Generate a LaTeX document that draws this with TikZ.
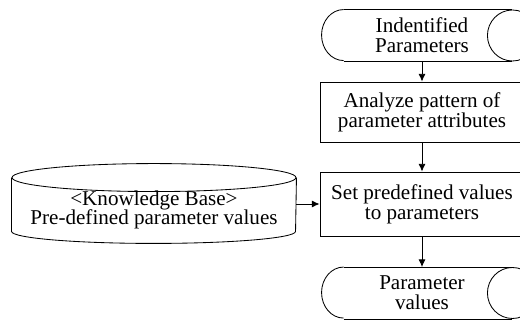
\documentclass[tikz,border=0pt]{standalone}
\usepackage{fontspec}
\setmainfont{Liberation Serif}
\usetikzlibrary{arrows.meta,calc}

\begin{document}
\begin{tikzpicture}[x=0.025cm,y=0.025cm,line width=0.6pt]

        \clip (0,0) rectangle (520,320);

        \begin{scope}[every node/.style={align=center,inner sep=0pt,font=\fontsize{15}{14}\selectfont}]
          \node (1) [minimum width=4.5cm,minimum height=1.275cm] at (422,284.5) {Indentified\\Parameters};
          \node (2) [draw,minimum width=5.1cm,minimum height=1.5cm] at (422,208) {Analyze pattern of\\parameter attributes};
          \node (3) [draw,minimum width=5.1cm,minimum height=1.6cm] at (422,116) {Set predefined values\\to parameters};
          \node (4) [minimum width=4.5cm,minimum height=1.275cm] at (422,27) {Parameter\\values};
          \node (5) [minimum width=7.1cm,minimum height=1.2cm] at (154,110) {<Knowledge Base>\\Pre-defined parameter values};
        \end{scope}

        % rounded ends of the two terminals
        \foreach \n in {1,4} {
          \draw ($(\n.north west)+(12,0)$) -- (\n.north east)
                ($(\n.south west)+(12,0)$) -- (\n.south east);
          \draw ($(\n.north west)+(12,0)$) arc[start angle=90,end angle=270,x radius=22,y radius=25.5];
          \draw (\n.east) ellipse[x radius=25,y radius=25.5];
        }

        % knowledge base drum
        \coordinate (kbtop) at ($(5.north)+(0,8)$);
        \draw (kbtop) ellipse[x radius=142,y radius=14];
        \draw (kbtop -| 5.west) -- ($(5.south west)+(0,3)$)
              arc[start angle=180,end angle=360,x radius=142,y radius=12] -- (kbtop -| 5.east);

        \begin{scope}[every edge/.style={draw,-{Latex[length=5.5pt,width=5pt]}}]
          \path (1) edge (2);
          \path (2) edge (3);
          \path (3) edge (4);
          \path (5.east |- 3) edge (3);
        \end{scope}

      \end{tikzpicture}
\end{document}
